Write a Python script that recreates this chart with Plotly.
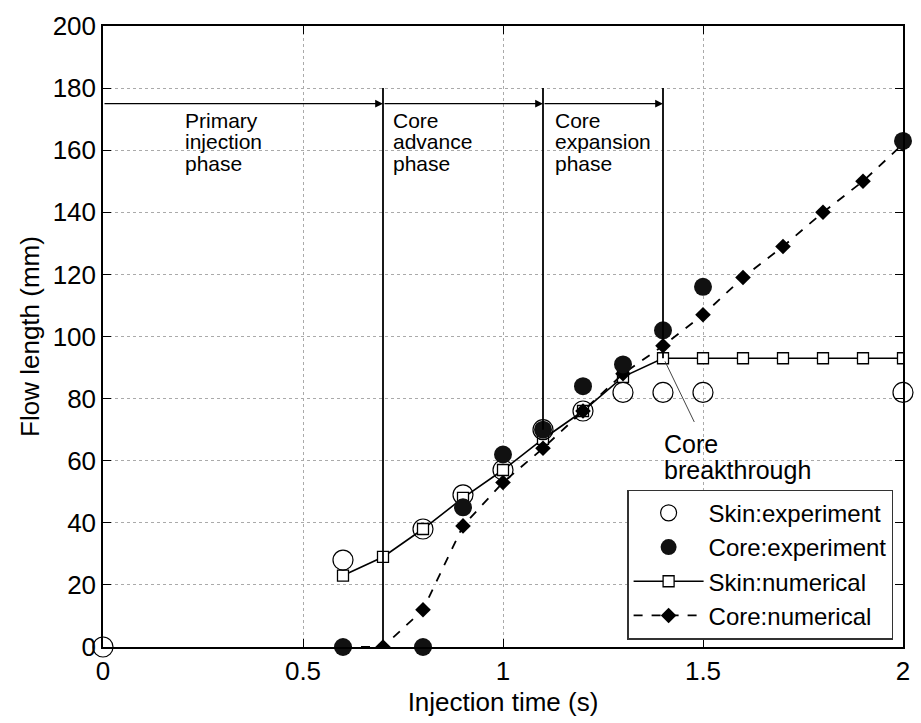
import plotly.graph_objects as go

# ---- data ----
skin_exp_t = [0.0, 0.6, 0.8, 0.9, 1.0, 1.1, 1.2, 1.3, 1.4, 1.5, 2.0]
skin_exp_len = [0, 28, 38, 49, 57, 70, 76, 82, 82, 82, 82]

core_exp_t = [0.6, 0.8, 0.9, 1.0, 1.1, 1.2, 1.3, 1.4, 1.5, 2.0]
core_exp_len = [0, 0, 45, 62, 70, 84, 91, 102, 116, 163]

skin_num_t = [0.6, 0.7, 0.8, 0.9, 1.0, 1.1, 1.2, 1.3, 1.4, 1.5, 1.6, 1.7, 1.8, 1.9, 2.0]
skin_num_len = [23, 29, 38, 48, 57, 67, 76, 87, 93, 93, 93, 93, 93, 93, 93]

core_num_t = [0.6, 0.7, 0.8, 0.9, 1.0, 1.1, 1.2, 1.3, 1.4, 1.5, 1.6, 1.7, 1.8, 1.9, 2.0]
core_num_len = [0, 0, 12, 39, 53, 64, 76, 88, 97, 107, 119, 129, 140, 150, 162]

phase_start = [0.0, 0.7, 1.1]
phase_end = [0.7, 1.1, 1.4]
phase_line_bottom = [0, 70, 93]
phase_line_top = 180
phase_arrow_y = 175
phase_labels = [["Primary", "injection", "phase"],
                ["Core", "advance", "phase"],
                ["Core", "expansion", "phase"]]
phase_label_x = [0.2, 0.72, 1.125]
breakthrough_label = ["Core", "breakthrough"]

x_ticks = [0, 0.5, 1, 1.5, 2]
x_tick_text = ["0", "0.5", "1", "1.5", "2"]
y_ticks = list(range(0, 201, 20))

FONT = "Liberation Sans, Arial, Helvetica, sans-serif"

fig = go.Figure()

fig.add_trace(go.Scatter(
    x=skin_num_t, y=skin_num_len, mode="lines+markers", name="Skin:numerical",
    line=dict(color="black", width=1.6),
    marker=dict(symbol="square", size=11, color="white", line=dict(color="black", width=1.3)),
    legendrank=3,
))
fig.add_trace(go.Scatter(
    x=core_num_t, y=core_num_len, mode="lines+markers", name="Core:numerical",
    line=dict(color="black", width=1.8, dash="dash"),
    marker=dict(symbol="diamond", size=12, color="black"),
    legendrank=4,
))
fig.add_trace(go.Scatter(
    x=skin_exp_t, y=skin_exp_len, mode="markers", name="Skin:experiment",
    marker=dict(symbol="circle-open", size=20, color="black", line=dict(color="#222", width=1.2)),
    cliponaxis=False, legendrank=1,
))
fig.add_trace(go.Scatter(
    x=core_exp_t, y=core_exp_len, mode="markers", name="Core:experiment",
    marker=dict(symbol="circle", size=18, color="#111"),
    cliponaxis=False, legendrank=2,
))

shapes = []
for xe, yb in zip(phase_end, phase_line_bottom):
    shapes.append(dict(type="line", xref="x", yref="y", x0=xe, x1=xe, y0=yb, y1=phase_line_top,
                       line=dict(color="black", width=1.8)))

annotations = []
for xs, xe in zip(phase_start, phase_end):
    annotations.append(dict(x=xe, y=phase_arrow_y, ax=xs, ay=phase_arrow_y, xref="x", yref="y",
                            axref="x", ayref="y", text="", showarrow=True, arrowhead=2,
                            arrowsize=1.2, arrowwidth=1.3, arrowcolor="black", standoff=0))
# phase labels, one annotation per text line (tight line spacing as in the original)
for lx, lines in zip(phase_label_x, phase_labels):
    for i, ln in enumerate(lines):
        annotations.append(dict(x=lx, y=169.6 - i * 6.9, xref="x", yref="y", text=ln,
                                showarrow=False, xanchor="left", yanchor="middle",
                                font=dict(family=FONT, size=21, color="black")))
annotations.append(dict(x=1.405, y=92, ax=1.48, ay=72, xref="x", yref="y", axref="x", ayref="y",
                        text="", showarrow=True, arrowhead=0, arrowwidth=1, arrowcolor="#444"))
for i, ln in enumerate(breakthrough_label):
    annotations.append(dict(x=1.397, y=65.5 - i * 8.4, xref="x", yref="y", text=ln,
                            showarrow=False, xanchor="left", yanchor="middle",
                            font=dict(family=FONT, size=25, color="black")))

fig.update_layout(
    width=921, height=723,
    margin=dict(l=103, r=11, t=20, b=74),
    paper_bgcolor="white", plot_bgcolor="white",
    font=dict(family=FONT, color="black"),
    shapes=shapes, annotations=annotations,
    legend=dict(x=0.988, y=0.012, xanchor="right", yanchor="bottom",
                bgcolor="white", bordercolor="#333", borderwidth=1.2,
                font=dict(family=FONT, size=24, color="black"),
                traceorder="normal", itemwidth=70, tracegroupgap=0),
    showlegend=True,
)
fig.update_xaxes(
    range=[0, 2], tickvals=x_ticks, ticktext=x_tick_text,
    showline=True, linecolor="black", linewidth=1.5, mirror="ticks",
    ticks="inside", ticklen=8, tickcolor="black",
    showgrid=True, gridcolor="#aaa", griddash="dot", gridwidth=1,
    zeroline=False, tickfont=dict(size=26),
    title=dict(text="Injection time (s)", font=dict(size=26), standoff=8),
)
fig.update_yaxes(
    range=[0, 200], tickvals=y_ticks,
    showline=True, linecolor="black", linewidth=1.5, mirror="ticks",
    ticks="inside", ticklen=8, tickcolor="black",
    showgrid=True, gridcolor="#aaa", griddash="dot", gridwidth=1,
    zeroline=False, tickfont=dict(size=26),
    title=dict(text="Flow length (mm)", font=dict(size=26), standoff=6),
)

fig.write_html("out.html")
